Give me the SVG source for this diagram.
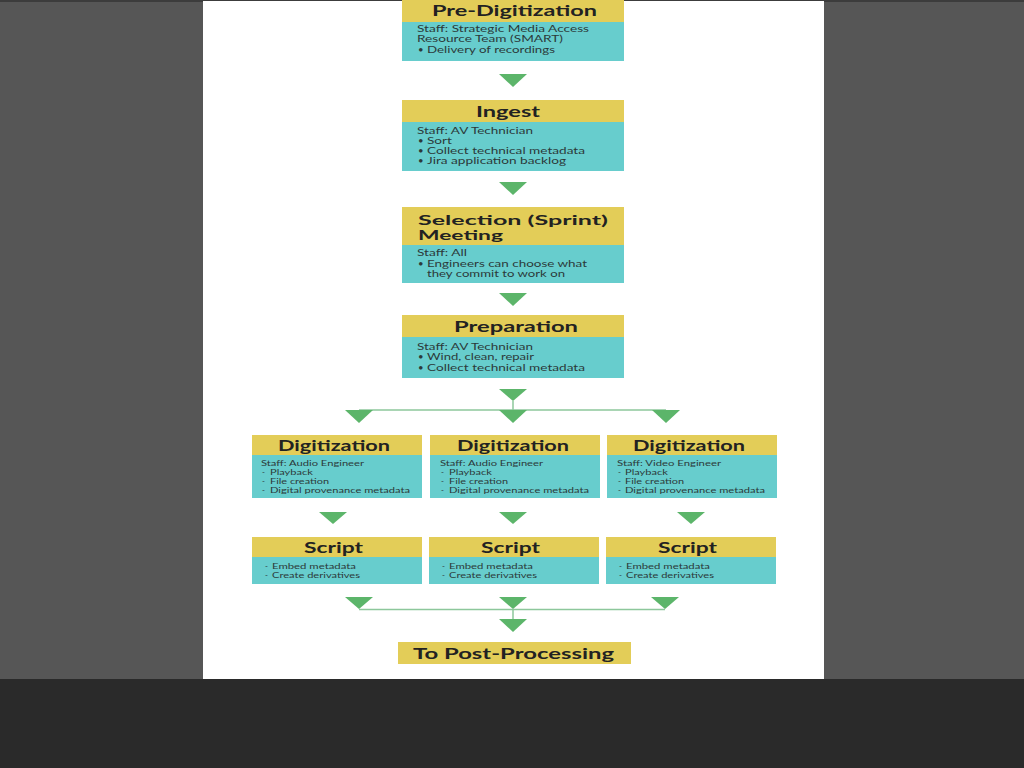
<svg xmlns="http://www.w3.org/2000/svg" width="1024" height="768" viewBox="0 0 1024 768">
<style>
.hd{fill:#E3CD58}
.bd{fill:#67CDCD}
.h{font-family:Lato,"Open Sans","Liberation Sans",sans-serif;font-weight:700;font-size:16px;fill:#222}
.hm{font-family:Lato,"Open Sans","Liberation Sans",sans-serif;font-weight:700;font-size:14px;fill:#222}
.hs{font-family:Lato,"Open Sans","Liberation Sans",sans-serif;font-weight:700;font-size:15px;fill:#222}
.t{font-family:Lato,"Open Sans","Liberation Sans",sans-serif;font-size:9.5px;fill:#2c3a3a}
.s{font-family:Lato,"Open Sans","Liberation Sans",sans-serif;font-size:8px;fill:#2c3a3a}
.tri{fill:#5CB56A}
.ln{stroke:#8DC79B;stroke-width:1.5;fill:none}
</style>
<rect x="0" y="0" width="1024" height="768" fill="#565656"/>
<rect x="0" y="0" width="1024" height="2" fill="#3c3c3c"/>
<rect x="203" y="1" width="621" height="678" fill="#ffffff"/>
<rect x="0" y="679" width="1024" height="89" fill="#2a2a2a"/>

<g id="connectors">
<polygon class="tri" points="499,74 527,74 513,87"/>
<polygon class="tri" points="499,182 527,182 513,195"/>
<polygon class="tri" points="499,293 527,293 513,306"/>
<polygon class="tri" points="499,389 527,389 513,401"/>
<line class="ln" x1="513" y1="401" x2="513" y2="410"/>
<line class="ln" x1="359" y1="410" x2="666" y2="410"/>
<polygon class="tri" points="345,410 373,410 359,423"/>
<polygon class="tri" points="499,410 527,410 513,423"/>
<polygon class="tri" points="652,410 680,410 666,423"/>
<polygon class="tri" points="319,512 347,512 333,524"/>
<polygon class="tri" points="499,512 527,512 513,524"/>
<polygon class="tri" points="677,512 705,512 691,524"/>
<line class="ln" x1="359" y1="609.5" x2="665" y2="609.5"/>
<line class="ln" x1="513" y1="609" x2="513" y2="619"/>
<polygon class="tri" points="345,597 373,597 359,609"/>
<polygon class="tri" points="499,597 527,597 513,609"/>
<polygon class="tri" points="651,597 679,597 665,609"/>
<polygon class="tri" points="499,619 527,619 513,632"/>
</g>

<g id="pre-digitization">
<rect class="hd" x="402" y="0" width="222" height="22"/>
<rect class="bd" x="402" y="22" width="222" height="39"/>
<text class="h" x="432" y="16" textLength="165" lengthAdjust="spacingAndGlyphs">Pre-Digitization</text>
<text class="t" x="417" y="32" textLength="172" lengthAdjust="spacingAndGlyphs">Staff: Strategic Media Access</text>
<text class="t" x="417" y="42" textLength="146" lengthAdjust="spacingAndGlyphs">Resource Team (SMART)</text>
<text class="t" x="418" y="53">•</text>
<text class="t" x="427" y="53" textLength="128" lengthAdjust="spacingAndGlyphs">Delivery of recordings</text>
</g>

<g id="ingest">
<rect class="hd" x="402" y="100" width="222" height="22"/>
<rect class="bd" x="402" y="122" width="222" height="49"/>
<text class="h" x="476" y="117" textLength="64" lengthAdjust="spacingAndGlyphs">Ingest</text>
<text class="t" x="417" y="134" textLength="116" lengthAdjust="spacingAndGlyphs">Staff: AV Technician</text>
<text class="t" x="418" y="144">•</text>
<text class="t" x="427" y="144" textLength="25" lengthAdjust="spacingAndGlyphs">Sort</text>
<text class="t" x="418" y="154">•</text>
<text class="t" x="427" y="154" textLength="158" lengthAdjust="spacingAndGlyphs">Collect technical metadata</text>
<text class="t" x="418" y="164">•</text>
<text class="t" x="427" y="164" textLength="139" lengthAdjust="spacingAndGlyphs">Jira application backlog</text>
</g>

<g id="selection-meeting">
<rect class="hd" x="402" y="207" width="222" height="38"/>
<rect class="bd" x="402" y="245" width="222" height="38"/>
<text class="hm" x="418" y="225" textLength="190" lengthAdjust="spacingAndGlyphs">Selection (Sprint)</text>
<text class="hm" x="418" y="240" textLength="85" lengthAdjust="spacingAndGlyphs">Meeting</text>
<text class="t" x="417" y="256" textLength="50" lengthAdjust="spacingAndGlyphs">Staff: All</text>
<text class="t" x="418" y="267">•</text>
<text class="t" x="427" y="267" textLength="160" lengthAdjust="spacingAndGlyphs">Engineers can choose what</text>
<text class="t" x="427" y="277" textLength="138" lengthAdjust="spacingAndGlyphs">they commit to work on</text>
</g>

<g id="preparation">
<rect class="hd" x="402" y="315" width="222" height="22"/>
<rect class="bd" x="402" y="337" width="222" height="41"/>
<text class="h" x="454" y="332" textLength="124" lengthAdjust="spacingAndGlyphs">Preparation</text>
<text class="t" x="417" y="350" textLength="116" lengthAdjust="spacingAndGlyphs">Staff: AV Technician</text>
<text class="t" x="418" y="360">•</text>
<text class="t" x="427" y="360" textLength="107" lengthAdjust="spacingAndGlyphs">Wind, clean, repair</text>
<text class="t" x="418" y="371">•</text>
<text class="t" x="427" y="371" textLength="158" lengthAdjust="spacingAndGlyphs">Collect technical metadata</text>
</g>

<g id="digitization-1">
<rect class="hd" x="252" y="435" width="170" height="20"/>
<rect class="bd" x="252" y="455" width="170" height="43"/>
<text class="hs" x="278" y="451" textLength="112" lengthAdjust="spacingAndGlyphs">Digitization</text>
<text class="s" x="261" y="466" textLength="103" lengthAdjust="spacingAndGlyphs">Staff: Audio Engineer</text>
<text class="s" x="262" y="475">-</text>
<text class="s" x="270" y="475" textLength="43" lengthAdjust="spacingAndGlyphs">Playback</text>
<text class="s" x="262" y="484">-</text>
<text class="s" x="270" y="484" textLength="59" lengthAdjust="spacingAndGlyphs">File creation</text>
<text class="s" x="262" y="493">-</text>
<text class="s" x="270" y="493" textLength="140" lengthAdjust="spacingAndGlyphs">Digital provenance metadata</text>
</g>

<g id="digitization-2">
<rect class="hd" x="430" y="435" width="170" height="20"/>
<rect class="bd" x="430" y="455" width="170" height="43"/>
<text class="hs" x="457" y="451" textLength="112" lengthAdjust="spacingAndGlyphs">Digitization</text>
<text class="s" x="440" y="466" textLength="103" lengthAdjust="spacingAndGlyphs">Staff: Audio Engineer</text>
<text class="s" x="441" y="475">-</text>
<text class="s" x="449" y="475" textLength="43" lengthAdjust="spacingAndGlyphs">Playback</text>
<text class="s" x="441" y="484">-</text>
<text class="s" x="449" y="484" textLength="59" lengthAdjust="spacingAndGlyphs">File creation</text>
<text class="s" x="441" y="493">-</text>
<text class="s" x="449" y="493" textLength="140" lengthAdjust="spacingAndGlyphs">Digital provenance metadata</text>
</g>

<g id="digitization-3">
<rect class="hd" x="607" y="435" width="170" height="20"/>
<rect class="bd" x="607" y="455" width="170" height="43"/>
<text class="hs" x="633" y="451" textLength="112" lengthAdjust="spacingAndGlyphs">Digitization</text>
<text class="s" x="617" y="466" textLength="104" lengthAdjust="spacingAndGlyphs">Staff: Video Engineer</text>
<text class="s" x="618" y="475">-</text>
<text class="s" x="625" y="475" textLength="43" lengthAdjust="spacingAndGlyphs">Playback</text>
<text class="s" x="618" y="484">-</text>
<text class="s" x="625" y="484" textLength="59" lengthAdjust="spacingAndGlyphs">File creation</text>
<text class="s" x="618" y="493">-</text>
<text class="s" x="625" y="493" textLength="140" lengthAdjust="spacingAndGlyphs">Digital provenance metadata</text>
</g>

<g id="script-1">
<rect class="hd" x="252" y="537" width="170" height="20"/>
<rect class="bd" x="252" y="557" width="170" height="27"/>
<text class="hs" x="304" y="553" textLength="59" lengthAdjust="spacingAndGlyphs">Script</text>
<text class="s" x="265" y="569">-</text>
<text class="s" x="272" y="569" textLength="84" lengthAdjust="spacingAndGlyphs">Embed metadata</text>
<text class="s" x="265" y="578">-</text>
<text class="s" x="272" y="578" textLength="88" lengthAdjust="spacingAndGlyphs">Create derivatives</text>
</g>

<g id="script-2">
<rect class="hd" x="429" y="537" width="170" height="20"/>
<rect class="bd" x="429" y="557" width="170" height="27"/>
<text class="hs" x="481" y="553" textLength="59" lengthAdjust="spacingAndGlyphs">Script</text>
<text class="s" x="442" y="569">-</text>
<text class="s" x="449" y="569" textLength="84" lengthAdjust="spacingAndGlyphs">Embed metadata</text>
<text class="s" x="442" y="578">-</text>
<text class="s" x="449" y="578" textLength="88" lengthAdjust="spacingAndGlyphs">Create derivatives</text>
</g>

<g id="script-3">
<rect class="hd" x="606" y="537" width="170" height="20"/>
<rect class="bd" x="606" y="557" width="170" height="27"/>
<text class="hs" x="658" y="553" textLength="59" lengthAdjust="spacingAndGlyphs">Script</text>
<text class="s" x="619" y="569">-</text>
<text class="s" x="626" y="569" textLength="84" lengthAdjust="spacingAndGlyphs">Embed metadata</text>
<text class="s" x="619" y="578">-</text>
<text class="s" x="626" y="578" textLength="88" lengthAdjust="spacingAndGlyphs">Create derivatives</text>
</g>

<g id="post-processing">
<rect class="hd" x="398" y="642" width="233" height="22"/>
<text class="h" x="413" y="659" textLength="201" lengthAdjust="spacingAndGlyphs">To Post-Processing</text>
</g>
</svg>
